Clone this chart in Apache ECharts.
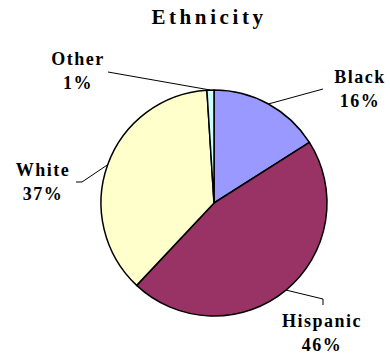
<!DOCTYPE html>
<html>
<head>
<meta charset="utf-8">
<script src="https://cdn.jsdelivr.net/npm/echarts@6/dist/echarts.min.js"></script>
<style>
html,body{margin:0;padding:0;background:#fff;}
#chart{width:390px;height:356px;}
#chart text{letter-spacing:1.5px;}
#chart text[style*="21px"]{letter-spacing:3.6px;}
</style>
</head>
<body>
<div id="chart"></div>
<script>
const titleText = 'Ethnicity';
const categories = ['Black', 'Hispanic', 'White', 'Other'];
const values = [16, 46, 37, 1];
const colors = ['#9999FF', '#993366', '#FFFFCC', '#CCFFFF'];

// label placements (layout only)
const labelPos = [
  {x: 360, y: 89, pts: [[323, 89], [323, 89]]},
  {x: 322, y: 333, pts: [[323, 299], [323, 305]]},
  {x: 43, y: 182, pts: [[82, 182], [76, 182]]},
  {x: 78, y: 71, pts: [[108, 72], [108, 72]]}
];

const chart = echarts.init(document.getElementById('chart'), null, {renderer: 'svg'});
chart.setOption({
  animation: false,
  title: {
    text: titleText,
    left: 209,
    textAlign: 'center',
    top: 6,
    padding: 0,
    textStyle: {fontFamily: 'Liberation Serif', fontWeight: 'bold', fontSize: 21, color: '#000'}
  },
  series: [{
    type: 'pie',
    center: [214, 203],
    radius: 113,
    startAngle: 90,
    clockwise: true,
    avoidLabelOverlap: false,
    data: categories.map((c, i) => ({name: c, value: values[i], itemStyle: {color: colors[i]}})),
    itemStyle: {borderColor: '#000', borderWidth: 1.5},
    label: {
      show: true,
      position: 'outside',
      formatter: '{b}\n{c}%',
      fontFamily: 'Liberation Serif',
      fontWeight: 'bold',
      fontSize: 18,
      lineHeight: 24,
      color: '#000'
    },
    labelLine: {show: true, length: 10, length2: 10, lineStyle: {color: '#000', width: 1}},
    emphasis: {disabled: true},
    labelLayout: function (params) {
      const p = labelPos[params.dataIndex];
      const s = params.labelLinePoints ? params.labelLinePoints[0] : p.pts[0];
      return {
        x: p.x, y: p.y, align: 'center', verticalAlign: 'middle',
        labelLinePoints: [s, p.pts[0], p.pts[1]]
      };
    }
  }]
});
</script>
</body>
</html>
